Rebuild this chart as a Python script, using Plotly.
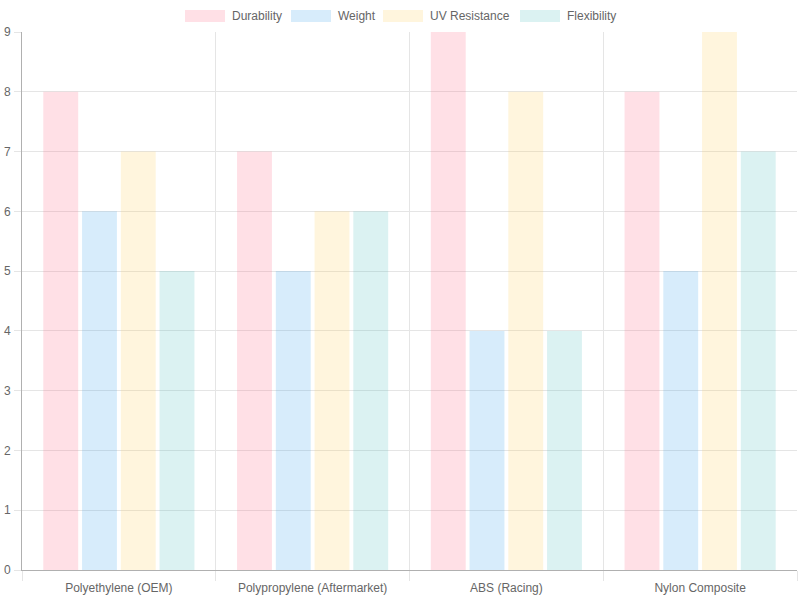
import plotly.graph_objects as go

categories = ["Polyethylene (OEM)", "Polypropylene (Aftermarket)", "ABS (Racing)", "Nylon Composite"]
series_names = ["Durability", "Weight", "UV Resistance", "Flexibility"]
durability = [8, 7, 9, 8]
weight = [6, 5, 4, 5]
uv_resistance = [7, 6, 8, 9]
flexibility = [5, 6, 4, 7]
y_ticks = [0, 1, 2, 3, 4, 5, 6, 7, 8, 9]

values = [durability, weight, uv_resistance, flexibility]
colors = ["rgba(255,99,132,0.2)", "rgba(54,162,235,0.2)", "rgba(255,206,86,0.2)", "rgba(75,192,192,0.2)"]

fig = go.Figure()
for name, vals, col in zip(series_names, values, colors):
    fig.add_trace(go.Bar(x=categories, y=vals, name=name, marker=dict(color=col, line=dict(width=0)),
                         showlegend=False))

W, H = 800, 600
ml, mr, mt, mb = 22, 3, 32, 30
pw = W - ml - mr
ph = H - mt - mb

def px_to_paper_x(px):
    return (px - ml) / pw

def px_to_paper_y(py):
    return 1 - (py - mt) / ph

shapes = []
annotations = []
legend_boxes = [185, 291, 383, 520]
for name, col, bx in zip(series_names, colors, legend_boxes):
    shapes.append(dict(type="rect", xref="paper", yref="paper",
                       x0=px_to_paper_x(bx), x1=px_to_paper_x(bx + 40),
                       y0=px_to_paper_y(22), y1=px_to_paper_y(10),
                       fillcolor=col, line=dict(width=0)))
    annotations.append(dict(xref="paper", yref="paper", x=px_to_paper_x(bx + 44.5), y=px_to_paper_y(16),
                            text=name, showarrow=False, xanchor="left", yanchor="middle",
                            font=dict(size=12, color="#666", family="Liberation Sans, Arial, sans-serif")))

fig.update_layout(
    width=W, height=H,
    margin=dict(l=ml, r=mr, t=mt, b=mb),
    paper_bgcolor="white", plot_bgcolor="white",
    barmode="group", bargap=0.2, bargroupgap=0.1,
    font=dict(family="Liberation Sans, Arial, sans-serif", size=12, color="#666"),
    shapes=shapes, annotations=annotations,
    xaxis=dict(showgrid=True, gridcolor="#e5e5e5", tickson="boundaries", ticks="outside", ticklen=10,
               tickcolor="#e5e5e5", showline=True, linecolor="#b0b0b0", linewidth=1,
               tickfont=dict(size=12, color="#666"), ticklabelstandoff=7, fixedrange=True),
    yaxis=dict(range=[0, 9], tickvals=y_ticks, showgrid=True, gridcolor="#e5e5e5", ticks="outside",
               ticklen=7, tickcolor="#e5e5e5", showline=True, linecolor="#b0b0b0", linewidth=1,
               zeroline=False, tickfont=dict(size=12, color="#666"), ticklabelstandoff=1),
)

fig.write_html("out.html")
